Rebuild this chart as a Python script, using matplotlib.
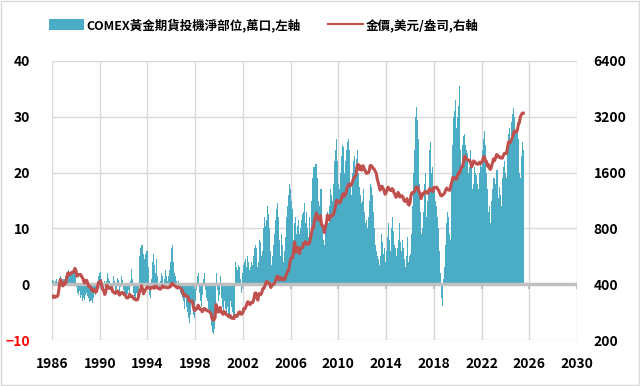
import matplotlib
matplotlib.use("Agg")
import matplotlib.pyplot as plt
import numpy as np
from matplotlib.patches import Rectangle, Patch
from matplotlib.lines import Line2D

plt.rcParams['font.family'] = ['Noto Sans CJK TC', 'DejaVu Sans']

start_year = 1986

# COMEX 黃金期貨投機淨部位 (萬口), monthly, Jan 1986 - Jul 2025
net_pos = [
    0.8, 0.5, -0.3, 0.6, 1.0, 0.4, 0.2, 1.2, 1.5, 0.8, 0.3, 1.0,          # 1986
    1.0, 1.5, 1.2, 2.2, 2.5, 1.8, 1.5, 2.0, 2.2, 2.8, 2.5, 1.5,           # 1987
    -0.5, -1.5, -2.0, -1.2, -2.5, -2.0, -3.0, -2.5, -2.8, -2.0, -1.5, -2.2,  # 1988
    -2.5, -3.2, -3.0, -2.8, -3.3, -2.5, -1.5, -2.0, -1.0, 0.5, 1.5, 2.0,  # 1989
    2.2, 1.0, -0.5, -1.0, 0.5, -0.8, 0.5, 2.0, 1.2, 0.5, -0.5, -1.0,     # 1990
    -1.0, 1.5, 0.5, -1.2, -0.8, 1.2, 0.8, -1.5, -0.5, 1.5, 0.8, -1.0,    # 1991
    -1.5, -2.0, -2.2, -1.8, -1.0, -2.0, 0.5, 2.8, 1.0, -1.5, -2.2, -2.5, # 1992
    -1.5, -2.0, -1.0, 2.5, 5.0, 6.5, 7.0, 5.5, 3.0, 4.5, 5.5, 6.0,       # 1993
    6.0, 3.0, -2.0, -2.5, 1.0, 4.0, 5.5, 3.5, 2.0, 4.5, 1.5, -0.5,       # 1994
    -1.0, 0.5, 2.0, 1.5, -0.5, 1.0, 2.5, 1.5, 0.5, 1.5, 2.5, 4.0,        # 1995
    6.5, 7.0, 4.0, 2.0, 1.5, 0.5, -1.0, 0.5, -0.5, -1.5, -2.0, -2.5,     # 1996
    -3.0, -4.5, -2.0, -4.0, -5.0, -6.0, -7.0, -5.5, -3.0, -4.0, -5.5, -6.0,  # 1997
    -3.0, -1.0, 1.5, 2.0, -1.5, -3.0, -4.0, -2.0, 1.0, 2.0, -1.0, -2.5,  # 1998
    -3.0, -4.5, -5.0, -6.0, -7.5, -8.5, -9.0, -8.0, -4.0, 2.0, -1.0, -3.0,  # 1999
    -2.0, 1.5, -2.5, -4.0, -5.0, -3.0, -4.5, -5.5, -4.0, -5.5, -6.0, -3.0,  # 2000
    -4.0, -5.0, -6.0, -5.5, 4.0, 3.0, 2.5, 3.5, 3.0, 1.0, -1.5, 2.0,     # 2001
    3.5, 4.0, 4.5, 3.0, 5.0, 4.0, 2.5, 3.0, 4.0, 3.5, 5.0, 6.5,          # 2002
    7.0, 6.5, 3.0, 4.0, 8.0, 7.5, 5.0, 6.0, 10.0, 12.0, 10.5, 11.5,      # 2003
    14.0, 12.5, 10.0, 6.0, 3.5, 5.0, 7.0, 9.0, 11.5, 13.5, 14.5, 12.0,   # 2004
    8.0, 5.0, 9.0, 7.0, 4.0, 6.0, 8.5, 12.0, 14.0, 16.0, 18.0, 17.0,     # 2005
    15.0, 13.5, 8.0, 11.0, 12.0, 9.0, 10.5, 11.5, 9.0, 10.0, 11.5, 12.5, # 2006
    13.0, 14.5, 11.0, 13.0, 10.0, 8.5, 12.0, 9.0, 15.0, 19.0, 21.0, 20.0,  # 2007
    21.0, 21.5, 19.0, 15.0, 14.0, 13.0, 17.0, 11.0, 10.0, 8.0, 7.0, 11.0,  # 2008
    12.0, 13.0, 11.0, 14.0, 17.0, 16.0, 15.0, 18.0, 22.0, 24.0, 26.0, 22.0,  # 2009
    18.0, 17.0, 20.0, 23.0, 25.0, 24.5, 20.0, 22.0, 24.0, 25.5, 26.0, 24.0,  # 2010
    18.0, 16.0, 20.0, 22.0, 23.0, 21.0, 22.5, 24.0, 20.0, 17.5, 16.0, 14.5,  # 2011
    15.0, 17.0, 13.0, 11.0, 11.5, 10.0, 12.0, 15.0, 18.0, 17.5, 16.0, 13.0,  # 2012
    10.0, 7.0, 6.0, 5.0, 4.5, 3.5, 5.0, 9.0, 7.5, 5.5, 6.5, 4.0,         # 2013
    6.0, 8.5, 11.0, 8.0, 6.0, 10.0, 12.0, 9.5, 7.0, 6.5, 5.0, 6.5,       # 2014
    8.0, 11.0, 7.5, 6.0, 8.0, 6.5, 4.5, 3.0, 5.0, 8.5, 4.0, 5.0,         # 2015
    5.5, 9.0, 14.0, 20.0, 24.0, 30.0, 31.8, 29.5, 26.0, 18.0, 13.0, 9.0, # 2016
    10.0, 13.0, 18.0, 20.0, 12.0, 15.0, 16.5, 24.0, 25.5, 20.0, 21.0, 17.0,  # 2017
    17.0, 15.0, 14.0, 12.0, 10.0, 6.0, 2.0, -2.5, -3.9, 1.0, 3.0, 7.0,   # 2018
    11.0, 13.0, 12.0, 9.0, 8.0, 18.0, 25.0, 30.0, 31.0, 33.0, 28.0, 30.0,  # 2019
    32.0, 35.5, 24.0, 21.0, 25.0, 26.5, 27.0, 25.0, 24.0, 23.5, 20.0, 21.0,  # 2020
    24.0, 21.0, 17.0, 18.0, 21.0, 20.0, 19.5, 18.0, 17.0, 20.0, 22.0, 21.0,  # 2021
    24.0, 26.0, 27.5, 25.0, 20.0, 17.0, 13.0, 14.0, 10.0, 11.0, 15.0, 17.0,  # 2022
    19.0, 15.0, 18.0, 20.5, 19.0, 15.5, 17.5, 16.0, 14.0, 19.0, 21.0, 22.0,  # 2023
    20.0, 19.0, 24.0, 27.0, 28.0, 26.0, 29.0, 30.5, 31.5, 30.0, 27.0, 28.0,  # 2024
    29.0, 26.0, 20.0, 19.0, 23.0, 25.5, 24.0,                              # 2025
]

# 金價 (美元/盎司), monthly
gold = [
    345, 339, 346, 340, 342, 343, 348, 376, 418, 423, 398, 391,
    408, 401, 409, 438, 460, 450, 450, 461, 460, 465, 467, 487,
    477, 442, 444, 452, 451, 451, 437, 431, 413, 406, 420, 419,
    404, 388, 390, 384, 371, 367, 375, 365, 362, 367, 394, 409,
    410, 417, 393, 374, 369, 352, 362, 395, 389, 381, 381, 378,
    384, 364, 363, 358, 357, 367, 368, 356, 349, 358, 360, 361,
    354, 354, 345, 338, 337, 341, 353, 343, 345, 344, 335, 334,
    329, 329, 330, 342, 367, 371, 392, 379, 355, 364, 374, 383,
    387, 382, 384, 378, 381, 386, 385, 380, 391, 389, 384, 379,
    378, 376, 382, 391, 385, 387, 386, 383, 383, 383, 386, 387,
    400, 405, 396, 393, 392, 385, 383, 387, 383, 381, 378, 369,
    355, 346, 352, 344, 344, 341, 324, 324, 323, 325, 306, 289,
    289, 297, 296, 308, 299, 292, 293, 284, 289, 296, 294, 291,
    287, 287, 286, 282, 277, 261, 256, 257, 265, 311, 293, 283,
    284, 300, 286, 280, 275, 285, 282, 275, 273, 270, 266, 272,
    265, 262, 263, 261, 272, 270, 268, 273, 283, 283, 276, 276,
    282, 296, 294, 302, 314, 322, 314, 310, 319, 317, 319, 333,
    357, 359, 340, 328, 355, 356, 351, 360, 379, 379, 390, 407,
    414, 405, 407, 403, 384, 392, 398, 400, 406, 420, 439, 442,
    424, 423, 434, 429, 422, 431, 424, 438, 456, 470, 476, 510,
    550, 555, 557, 610, 676, 596, 633, 632, 598, 585, 627, 629,
    631, 665, 655, 679, 667, 655, 665, 665, 712, 754, 806, 803,
    889, 922, 968, 909, 888, 890, 939, 839, 829, 806, 760, 816,
    858, 943, 924, 890, 928, 946, 934, 949, 996, 1043, 1127, 1134,
    1117, 1095, 1113, 1148, 1205, 1232, 1193, 1215, 1271, 1343, 1370, 1391,
    1356, 1372, 1424, 1473, 1510, 1529, 1572, 1756, 1772, 1665, 1739, 1652,
    1656, 1742, 1673, 1650, 1585, 1596, 1594, 1630, 1744, 1747, 1721, 1684,
    1671, 1627, 1593, 1487, 1414, 1343, 1286, 1347, 1349, 1316, 1275, 1222,
    1244, 1300, 1336, 1299, 1287, 1279, 1311, 1296, 1239, 1222, 1176, 1202,
    1251, 1227, 1179, 1198, 1199, 1181, 1129, 1118, 1125, 1157, 1086, 1068,
    1097, 1200, 1246, 1242, 1260, 1276, 1337, 1340, 1326, 1267, 1238, 1157,
    1192, 1234, 1231, 1266, 1246, 1260, 1236, 1283, 1314, 1280, 1283, 1265,
    1331, 1331, 1325, 1335, 1303, 1282, 1238, 1202, 1198, 1215, 1221, 1250,
    1291, 1320, 1301, 1286, 1284, 1359, 1413, 1500, 1511, 1495, 1471, 1480,
    1560, 1597, 1592, 1683, 1715, 1732, 1846, 1968, 1921, 1900, 1866, 1858,
    1867, 1808, 1718, 1760, 1850, 1834, 1807, 1785, 1775, 1777, 1821, 1790,
    1817, 1856, 1948, 1937, 1849, 1837, 1733, 1765, 1681, 1665, 1726, 1798,
    1898, 1855, 1912, 1999, 1992, 1942, 1951, 1918, 1916, 1916, 1985, 2030,
    2034, 2024, 2159, 2331, 2351, 2326, 2398, 2471, 2571, 2690, 2650, 2648,
    2709, 2895, 2983, 3193, 3280, 3350, 3350,
]

x_ticks = list(range(1986, 2031, 4))
left_ticks = [-10, 0, 10, 20, 30, 40]
right_ticks = [200, 400, 800, 1600, 3200, 6400]

label_pos = 'COMEX黃金期貨投機淨部位,萬口,左軸'
label_gold = '金價,美元/盎司,右軸'

bar_color = '#4BACC6'
line_color = '#C0504D'
grid_color = '#D9D9D9'

t = start_year + np.arange(len(net_pos)) / 12.0

fig = plt.figure(figsize=(6.4, 3.86), dpi=100)
ax = fig.add_axes([52 / 640, 46 / 386, 525 / 640, 279 / 386])

ax.bar(t, net_pos, width=1 / 12 * 1.05, align='edge', color=bar_color,
       linewidth=0, zorder=2)
ax.axhline(0, color='#BFBFBF', linewidth=2.5, zorder=3)
ax.vlines(x_ticks, -0.8, 0, color='#BFBFBF', linewidth=1.5, zorder=3)

ax.set_xlim(1986, 2030)
ax.set_ylim(-10, 40)
ax.set_xticks(x_ticks)
ax.set_yticks(left_ticks)
ax.grid(True, color=grid_color, linewidth=1.0, zorder=0)
ax.set_axisbelow(True)
for s in ax.spines.values():
    s.set_visible(False)
ax.tick_params(axis='y', length=0, labelsize=10, pad=16)
ax.tick_params(axis='x', length=0, labelsize=10, pad=12)
for lab in ax.get_xticklabels() + ax.get_yticklabels():
    lab.set_fontweight('bold')
ax.get_yticklabels()[0].set_color('red')

ax2 = ax.twinx()
ax2.plot(t, gold, color=line_color, linewidth=2.2, zorder=4)
ax2.set_yscale('log', base=2)
ax2.set_ylim(200, 6400)
ax2.set_yticks(right_ticks)
ax2.set_yticklabels([str(v) for v in right_ticks])
ax2.minorticks_off()
for s in ax2.spines.values():
    s.set_visible(False)
ax2.tick_params(length=0, labelsize=10, pad=12)
for lab in ax2.get_yticklabels():
    lab.set_fontweight('bold')

handles = [Patch(facecolor=bar_color, edgecolor='none'),
           Line2D([0], [0], color=line_color, linewidth=1.5)]
fig.legend(handles, [label_pos, label_gold], loc='center',
           bbox_to_anchor=(0.412, 0.935), ncol=2, frameon=False,
           prop={'size': 9, 'weight': 'bold'}, handlelength=2.8,
           handleheight=0.9, columnspacing=2.2, handletextpad=0.2)

fig.patches.append(Rectangle((0.002, 0.003), 0.996, 0.994, transform=fig.transFigure,
                             fill=False, edgecolor=grid_color, linewidth=1))

fig.savefig('out.png', dpi=100)
